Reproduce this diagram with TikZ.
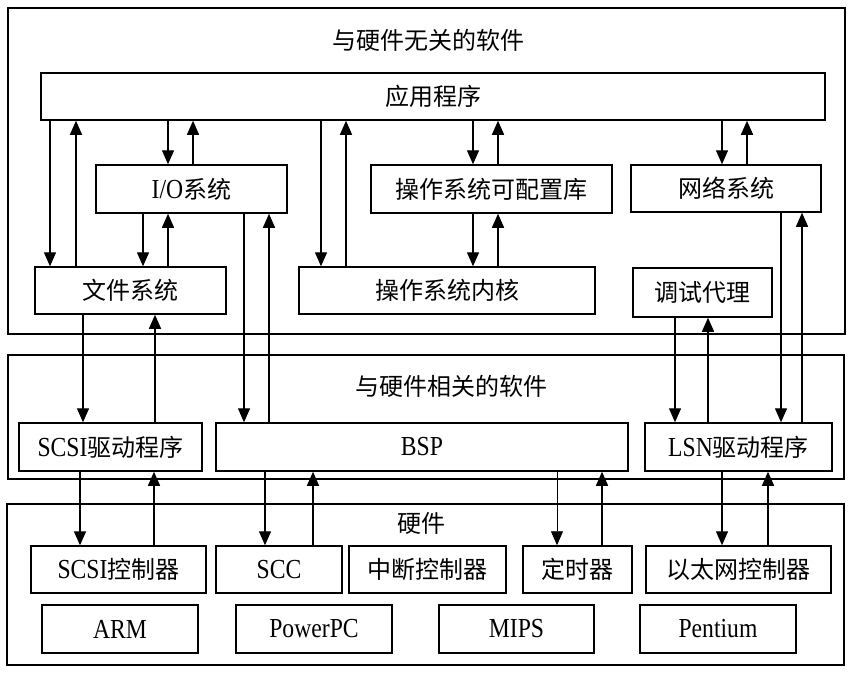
\documentclass[tikz,border=0pt]{standalone}
\usepackage{fontspec}
\setmainfont{Liberation Serif}[FakeStretch=0.86]
\newfontfamily\cjk{Noto Sans CJK SC}
\usetikzlibrary{arrows.meta}
\newcommand\zh[1]{{\fontsize{24}{26}\selectfont\cjk #1}}
\begin{document}
\begin{tikzpicture}[x=1pt,y=-1pt,
  box/.style={draw, line width=1.5pt, inner sep=0pt, minimum height=47pt, font=\fontsize{27.5}{30}\selectfont},
  frame/.style={draw, line width=1.5pt, inner sep=0pt},
  arr/.style={line width=1.4pt, -{Triangle[width=12pt,length=14pt]}},
  thinarr/.style={line width=0.8pt, -{Triangle[width=12pt,length=14pt]}},
  lbl/.style={font=\fontsize{24}{26}\selectfont, inner sep=0pt}]
\useasboundingbox[fill=white] (0,0) rectangle (851,673);

% frames
\node[frame, minimum width=837pt, minimum height=326pt] (swfree) at (426.5,171) {};
\node[lbl] (t1) at (428,40) {\zh{与硬件无关的软件}};
\node[frame, minimum width=836pt, minimum height=124pt] (swdep) at (426,417) {};
\node[lbl] (t2) at (451,386) {\zh{与硬件相关的软件}};
\node[frame, minimum width=837pt, minimum height=161pt] (hw) at (425.5,584.5) {};
\node[lbl] (t3) at (421,523) {\zh{硬件}};

% software (hardware independent)
\node[box, minimum width=784pt] (app) at (433,96.5) {\zh{应用程序}};
\node[box, minimum width=191pt, minimum height=48pt] (io) at (191.5,189) {I/O\zh{系统}};
\node[box, minimum width=241pt, minimum height=48pt] (cfg) at (491.5,189) {\zh{操作系统可配置库}};
\node[box, minimum width=190pt] (net) at (726,188.5) {\zh{网络系统}};
\node[box, minimum width=191pt] (fs) at (130.5,290.5) {\zh{文件系统}};
\node[box, minimum width=296pt] (kern) at (447,290.5) {\zh{操作系统内核}};
\node[box, minimum width=139pt, minimum height=49pt] (dbg) at (702.5,292.5) {\zh{调试代理}};

% software (hardware dependent)
\node[box, minimum width=183pt, minimum height=48pt] (scsidrv) at (110.5,447) {SCSI\zh{驱动程序}};
\node[box, minimum width=412pt, minimum height=48pt] (bsp) at (422,447) {BSP};
\node[box, minimum width=187pt, minimum height=48pt] (lsn) at (738.5,447) {LSN\zh{驱动程序}};

% hardware
\node[box, minimum width=175pt] (scsictl) at (118.5,569.5) {SCSI\zh{控制器}};
\node[box, minimum width=126pt] (scc) at (279,569.5) {SCC};
\node[box, minimum width=157pt] (intc) at (427.5,569.5) {\zh{中断控制器}};
\node[box, minimum width=109pt] (timer) at (577.5,569.5) {\zh{定时器}};
\node[box, minimum width=185pt] (eth) at (738.5,569.5) {\zh{以太网控制器}};
\node[box, minimum width=156pt, minimum height=48pt] (arm) at (120,629) {ARM};
\node[box, minimum width=156pt, minimum height=48pt] (ppc) at (314,629) {PowerPC};
\node[box, minimum width=155pt, minimum height=48pt] (mips) at (516.5,629) {MIPS};
\node[box, minimum width=156pt, minimum height=48pt] (pent) at (718,629) {Pentium};

% connectors
\draw[arr] (50,0 |- app.south) -- (50,0 |- fs.north);
\draw[arr] (76,0 |- fs.north) -- (76,0 |- app.south);
\draw[arr] (168,0 |- app.south) -- (168,0 |- io.north);
\draw[arr] (193,0 |- io.north) -- (193,0 |- app.south);
\draw[arr] (143,0 |- io.south) -- (143,0 |- fs.north);
\draw[arr] (168,0 |- fs.north) -- (168,0 |- io.south);
\draw[arr] (244,0 |- io.south) -- (244,0 |- bsp.north);
\draw[arr] (269,0 |- bsp.north) -- (269,0 |- io.south);
\draw[arr] (321,0 |- app.south) -- (321,0 |- kern.north);
\draw[arr] (346,0 |- kern.north) -- (346,0 |- app.south);
\draw[arr] (473,0 |- app.south) -- (473,0 |- cfg.north);
\draw[arr] (498,0 |- cfg.north) -- (498,0 |- app.south);
\draw[arr] (473,0 |- cfg.south) -- (473,0 |- kern.north);
\draw[arr] (498,0 |- kern.north) -- (498,0 |- cfg.south);
\draw[arr] (722,0 |- app.south) -- (722,0 |- net.north);
\draw[arr] (747,0 |- net.north) -- (747,0 |- app.south);
\draw[arr] (781,0 |- net.south) -- (781,0 |- lsn.north);
\draw[arr] (802,0 |- lsn.north) -- (802,0 |- net.south);
\draw[arr] (675,0 |- dbg.south) -- (675,0 |- lsn.north);
\draw[arr] (708,0 |- lsn.north) -- (708,0 |- dbg.south);
\draw[arr] (83,0 |- fs.south) -- (83,0 |- scsidrv.north);
\draw[arr] (155,0 |- scsidrv.north) -- (155,0 |- fs.south);
\draw[arr] (80,0 |- scsidrv.south) -- (80,0 |- scsictl.north);
\draw[arr] (154,0 |- scsictl.north) -- (154,0 |- scsidrv.south);
\draw[arr] (265,0 |- bsp.south) -- (265,0 |- scc.north);
\draw[arr] (313,0 |- scc.north) -- (313,0 |- bsp.south);
\draw[thinarr] (557,0 |- bsp.south) -- (557,0 |- timer.north);
\draw[arr] (602,0 |- timer.north) -- (602,0 |- bsp.south);
\draw[arr] (722,0 |- lsn.south) -- (722,0 |- eth.north);
\draw[arr] (768,0 |- eth.north) -- (768,0 |- lsn.south);
\end{tikzpicture}
\end{document}
